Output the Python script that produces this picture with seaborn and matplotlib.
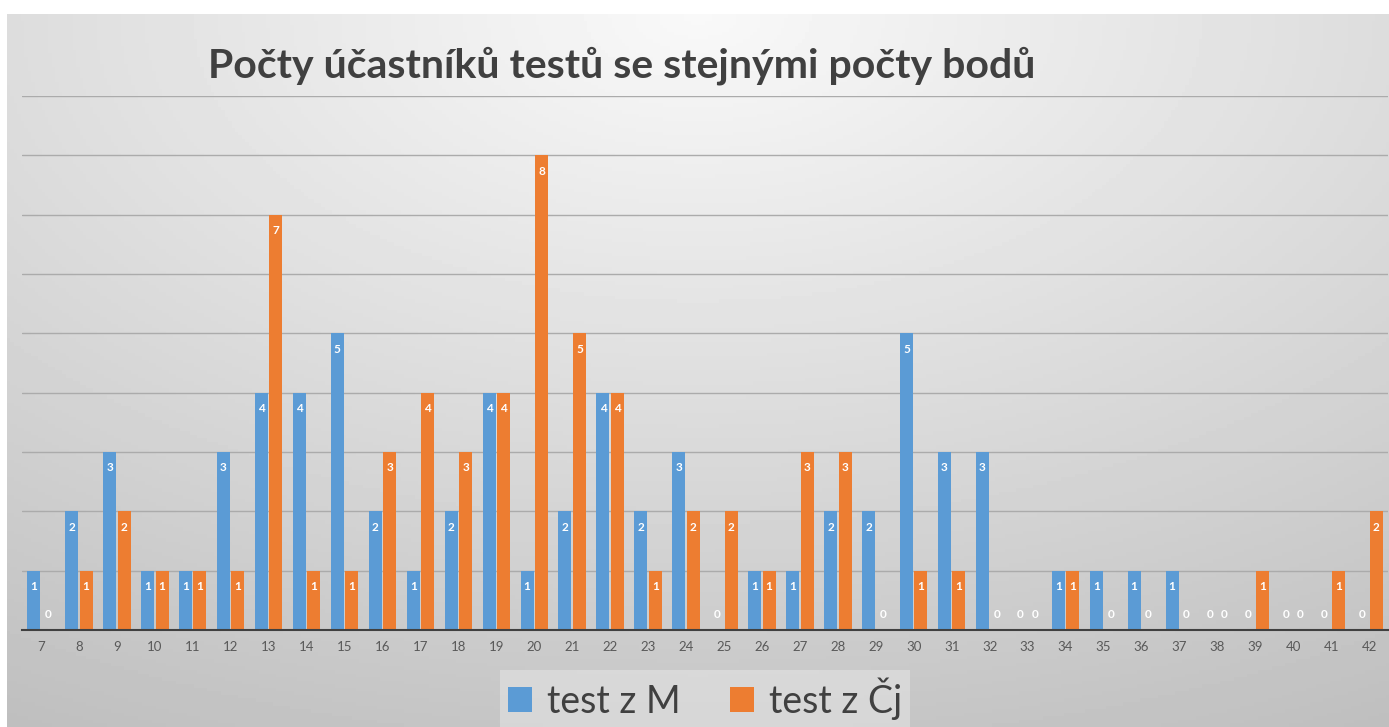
import numpy as np
import pandas as pd
import matplotlib.pyplot as plt
import seaborn as sns

# body testu 7..42
body = list(range(7, 43))
test_m = [1, 2, 3, 1, 1, 3, 4, 4, 5, 2, 1, 2, 4, 1, 2, 4, 2, 3, 0, 1, 1, 2, 2, 5,
          3, 3, 0, 1, 1, 1, 1, 0, 0, 0, 0, 0]
test_cj = [0, 1, 2, 1, 1, 1, 7, 1, 1, 3, 4, 3, 4, 8, 5, 4, 1, 2, 2, 1, 3, 3, 0, 1,
           1, 0, 0, 1, 0, 0, 0, 0, 1, 0, 1, 2]
serie = ["test z M", "test z Čj"]
barvy = ["#5B9BD5", "#ED7D31"]

df = pd.DataFrame({
    "body": [str(b) for b in body] * 2,
    "pocet": test_m + test_cj,
    "test": [serie[0]] * len(body) + [serie[1]] * len(body),
})

sns.set_style("white")
plt.rcParams["font.family"] = ["Lato", "DejaVu Sans"]

W, H = 1389, 727
fig = plt.figure(figsize=(W / 100, H / 100), dpi=100)
fig.patch.set_facecolor("white")

# pozadi s gradientem
bg = fig.add_axes([7 / W, 0, 1 - 7 / W, (H - 14) / H])
yy, xx = np.mgrid[0:1:200j, 0:1:400j]
r = np.sqrt(((xx - 0.5) * 1.1) ** 2 + (yy * 1.0) ** 2)
grad = 0.975 - 0.2 * np.clip(r, 0, 1.2)
bg.imshow(grad, cmap="gray", vmin=0, vmax=1, aspect="auto", extent=[0, 1, 0, 1],
          origin="upper")
bg.set_axis_off()

ax = fig.add_axes([22 / W, 97 / H, (1388 - 22) / W, (630 - 96) / H])
ax.set_facecolor("none")
sns.barplot(data=df, x="body", y="pocet", hue="test", palette=barvy,
            saturation=1, width=0.76, gap=0.1, linewidth=0, edgecolor="none",
            ax=ax, legend=True)

ax.set_ylim(0, 9)
ax.set_xlim(-0.5, len(body) - 0.5)
ax.set_yticks(range(1, 10))
ax.yaxis.grid(True, color="#ababab", linewidth=1)
ax.set_axisbelow(True)
ax.tick_params(axis="y", left=False, labelleft=False)
ax.tick_params(axis="x", length=0, labelsize=9.5, labelcolor="#595959", pad=8)
ax.set_xlabel("")
ax.set_ylabel("")
for s in ["top", "right", "left"]:
    ax.spines[s].set_visible(False)
ax.spines["bottom"].set_color("#404040")
ax.spines["bottom"].set_linewidth(1.5)

# popisky hodnot
for cont in ax.containers:
    for bar in cont:
        v = bar.get_height()
        x = bar.get_x() + bar.get_width() / 2
        off = 11 if v == 0 else -11.5
        ax.annotate(f"{int(v)}", (x, v), xytext=(0, off), textcoords="offset points",
                    ha="center", va="center", color="white", fontsize=8.5,
                    fontweight="bold")

leg = ax.legend(loc="center", bbox_to_anchor=(0.5, -0.128), ncol=2, frameon=True,
                fontsize=27, handlelength=0.65, handleheight=0.65, handletextpad=0.4,
                columnspacing=1.3, borderpad=0.2, fancybox=False)
leg.get_frame().set_facecolor("#e8e8e8")
leg.get_frame().set_alpha(0.5)
leg.get_frame().set_edgecolor("none")
for t in leg.get_texts():
    t.set_color("#404040")

fig.text(208 / W, 1 - 66 / H, "Počty účastníků testů se stejnými počty bodů",
         fontsize=29.5, fontweight="bold", color="#404040", ha="left", va="center")

fig.savefig("out.png", dpi=100)
